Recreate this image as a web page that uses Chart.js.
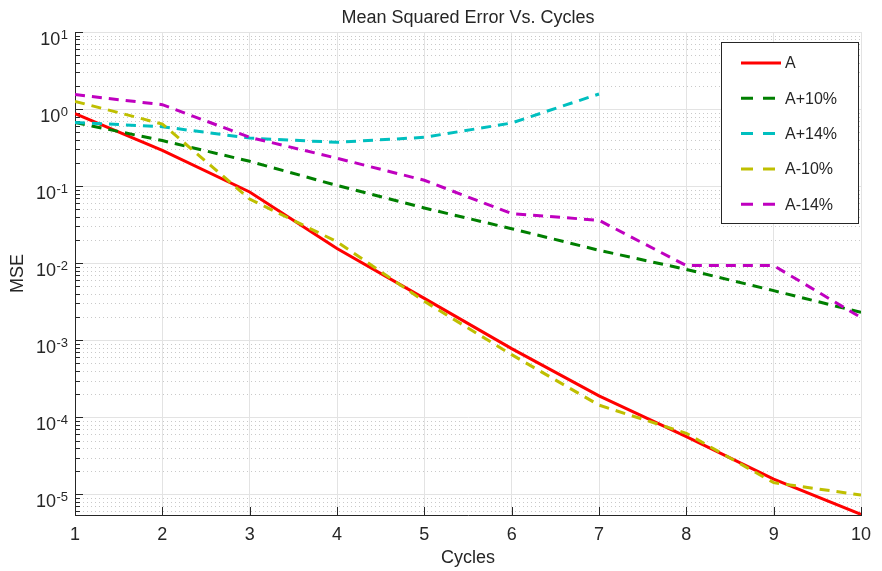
<!DOCTYPE html>
<html>
<head>
<meta charset="utf-8">
<script src="https://cdn.jsdelivr.net/npm/chart.js@4.4.1/dist/chart.umd.min.js"></script>
<style>
  html, body { margin: 0; padding: 0; background: #fff; }
</style>
</head>
<body>
<canvas id="mseChart" width="882" height="571"></canvas>
<script>
var cycles = [1, 2, 3, 4, 5, 6, 7, 8, 9, 10];
var seriesLabels = ['A', 'A+10%', 'A+14%', 'A-10%', 'A-14%'];
var mseA       = [0.87, 0.29, 0.084, 0.0155, 0.0035, 0.00078, 0.00019, 0.000056, 0.0000158, 0.0000055];
var mseAplus10 = [0.67, 0.39, 0.21, 0.102, 0.052, 0.028, 0.0147, 0.0083, 0.0044, 0.0023];
var mseAplus14 = [0.67, 0.59, 0.42, 0.37, 0.43, 0.66, 1.57];
var mseAmin10  = [1.26, 0.64, 0.068, 0.019, 0.0032, 0.00065, 0.000144, 0.000062, 0.0000142, 0.0000098];
var mseAmin14  = [1.54, 1.14, 0.43, 0.23, 0.119, 0.044, 0.036, 0.0093, 0.0093, 0.00197];
var yDecades = [-5, -4, -3, -2, -1, 0, 1];
var yTickBase = '10';
var yTickExps = ['-5', '-4', '-3', '-2', '-1', '0', '1'];

var FONT = '"Liberation Sans", Arial, sans-serif';
var INK = '#262626';

function toPoints(vals) {
  return vals.map(function(v, i) { return { x: cycles[i], y: v }; });
}

function isDecade(v) {
  var l = Math.log10(v);
  return Math.abs(l - Math.round(l)) < 1e-9;
}

var colors = ['#ff0000', '#007f00', '#00bfbf', '#bfbf00', '#bf00bf'];
var dashes = [[], [10, 7], [10, 7], [10, 7], [10, 7]];
var values = [mseA, mseAplus10, mseAplus14, mseAmin10, mseAmin14];

var datasets = values.map(function(v, i) {
  return {
    label: seriesLabels[i],
    data: toPoints(v),
    borderColor: colors[i],
    backgroundColor: colors[i],
    borderWidth: 3,
    borderDash: dashes[i],
    pointRadius: 0,
    tension: 0,
    fill: false,
    order: 5 - i
  };
});

// minor dotted grid, inward ticks, 10^n labels and the boxed legend
var gridPlugin = {
  id: 'minorGrid',
  beforeDatasetsDraw: function(chart) {
    var ctx = chart.ctx, a = chart.chartArea;
    var ys = chart.scales.y, xs = chart.scales.x;
    ctx.save();
    ctx.lineWidth = 1;
    ctx.strokeStyle = '#c9c9c9';
    ctx.setLineDash([1, 3]);
    ys.ticks.forEach(function(t) {
      if (isDecade(t.value)) return;
      var py = Math.round(ys.getPixelForValue(t.value)) + 0.5;
      ctx.beginPath(); ctx.moveTo(a.left, py); ctx.lineTo(a.right, py); ctx.stroke();
    });
    ctx.setLineDash([]);
    ctx.strokeStyle = INK;
    ys.ticks.forEach(function(t) {
      var py = Math.round(ys.getPixelForValue(t.value)) + 0.5;
      var len = isDecade(t.value) ? 8 : 5;
      ctx.beginPath(); ctx.moveTo(a.left, py); ctx.lineTo(a.left + len, py); ctx.stroke();
    });
    xs.ticks.forEach(function(t) {
      var px = Math.round(xs.getPixelForValue(t.value)) + 0.5;
      ctx.beginPath(); ctx.moveTo(px, a.bottom); ctx.lineTo(px, a.bottom - 8); ctx.stroke();
    });

    // y labels as 10 with a raised exponent
    ctx.fillStyle = INK;
    ctx.textBaseline = 'alphabetic';
    ctx.textAlign = 'right';
    yDecades.forEach(function(e, i) {
      var py = ys.getPixelForValue(Math.pow(10, e));
      var rx = a.left - 7;
      ctx.font = '13px ' + FONT;
      var w = ctx.measureText(yTickExps[i]).width;
      ctx.fillText(yTickExps[i], rx, py + 6.5);
      ctx.font = '18px ' + FONT;
      ctx.fillText(yTickBase, rx - w - 0.5, py + 12.5);
    });
    ctx.restore();
  },
  afterDatasetsDraw: function(chart) {
    var ctx = chart.ctx, a = chart.chartArea;
    var bx = a.right - 140, by = a.top + 10, bw = 137, bh = 181;
    ctx.save();
    ctx.fillStyle = '#fff';
    ctx.fillRect(bx, by, bw, bh);
    ctx.strokeStyle = INK;
    ctx.lineWidth = 1;
    ctx.strokeRect(bx + 0.5, by + 0.5, bw, bh);
    chart.data.datasets.forEach(function(ds, i) {
      var cy = by + 21 + i * 35.3;
      ctx.strokeStyle = ds.borderColor;
      ctx.lineWidth = 3;
      ctx.setLineDash(ds.borderDash.length ? [12, 10] : []);
      ctx.beginPath(); ctx.moveTo(bx + 20, cy); ctx.lineTo(bx + 60, cy); ctx.stroke();
      ctx.setLineDash([]);
      ctx.fillStyle = INK;
      ctx.font = '16px ' + FONT;
      ctx.textBaseline = 'middle';
      ctx.textAlign = 'left';
      ctx.fillText(ds.label, bx + 64, cy + 1);
    });
    ctx.restore();
  }
};

new Chart(document.getElementById('mseChart').getContext('2d'), {
  type: 'line',
  data: { datasets: datasets },
  plugins: [gridPlugin],
  options: {
    responsive: false,
    animation: false,
    devicePixelRatio: 1,
    layout: { padding: { left: 0, right: 21, top: 0, bottom: 0 } },
    plugins: {
      legend: { display: false },
      tooltip: { enabled: false },
      title: {
        display: true,
        fullSize: false,
        text: 'Mean Squared Error Vs. Cycles',
        color: INK,
        font: { family: FONT, size: 18, weight: 'normal', lineHeight: 1.2 },
        padding: { top: 7, bottom: 3.4 }
      }
    },
    scales: {
      x: {
        type: 'linear',
        min: 1,
        max: 10,
        afterFit: function(s) { s.height = 56; },
        ticks: { stepSize: 1, color: INK, padding: 9, font: { family: FONT, size: 18 } },
        grid: { color: '#e3e3e3', drawTicks: false },
        border: { display: true, color: INK, width: 1 },
        title: {
          display: true, text: 'Cycles', color: INK,
          font: { family: FONT, size: 18 }, padding: { top: 0, bottom: 2 }
        }
      },
      y: {
        type: 'logarithmic',
        min: 5.4e-6,
        max: 10,
        afterFit: function(s) { s.width = 75; },
        afterBuildTicks: function(s) {
          var t = [];
          [-6].concat(yDecades).forEach(function(e) {
            for (var m = 1; m <= 9; m++) {
              var v = m * Math.pow(10, e);
              if (v >= s.min * 0.999 && v <= s.max * 1.001) t.push({ value: v });
            }
          });
          s.ticks = t;
        },
        ticks: { display: false, autoSkip: false },
        grid: {
          drawTicks: false,
          color: function(c) { return c.tick && isDecade(c.tick.value) ? '#e3e3e3' : 'rgba(0,0,0,0)'; }
        },
        border: { display: true, color: INK, width: 1 },
        title: {
          display: true, text: 'MSE', color: INK,
          font: { family: FONT, size: 18 }, padding: { top: 7, bottom: 0 }
        }
      }
    }
  }
});
</script>
</body>
</html>
